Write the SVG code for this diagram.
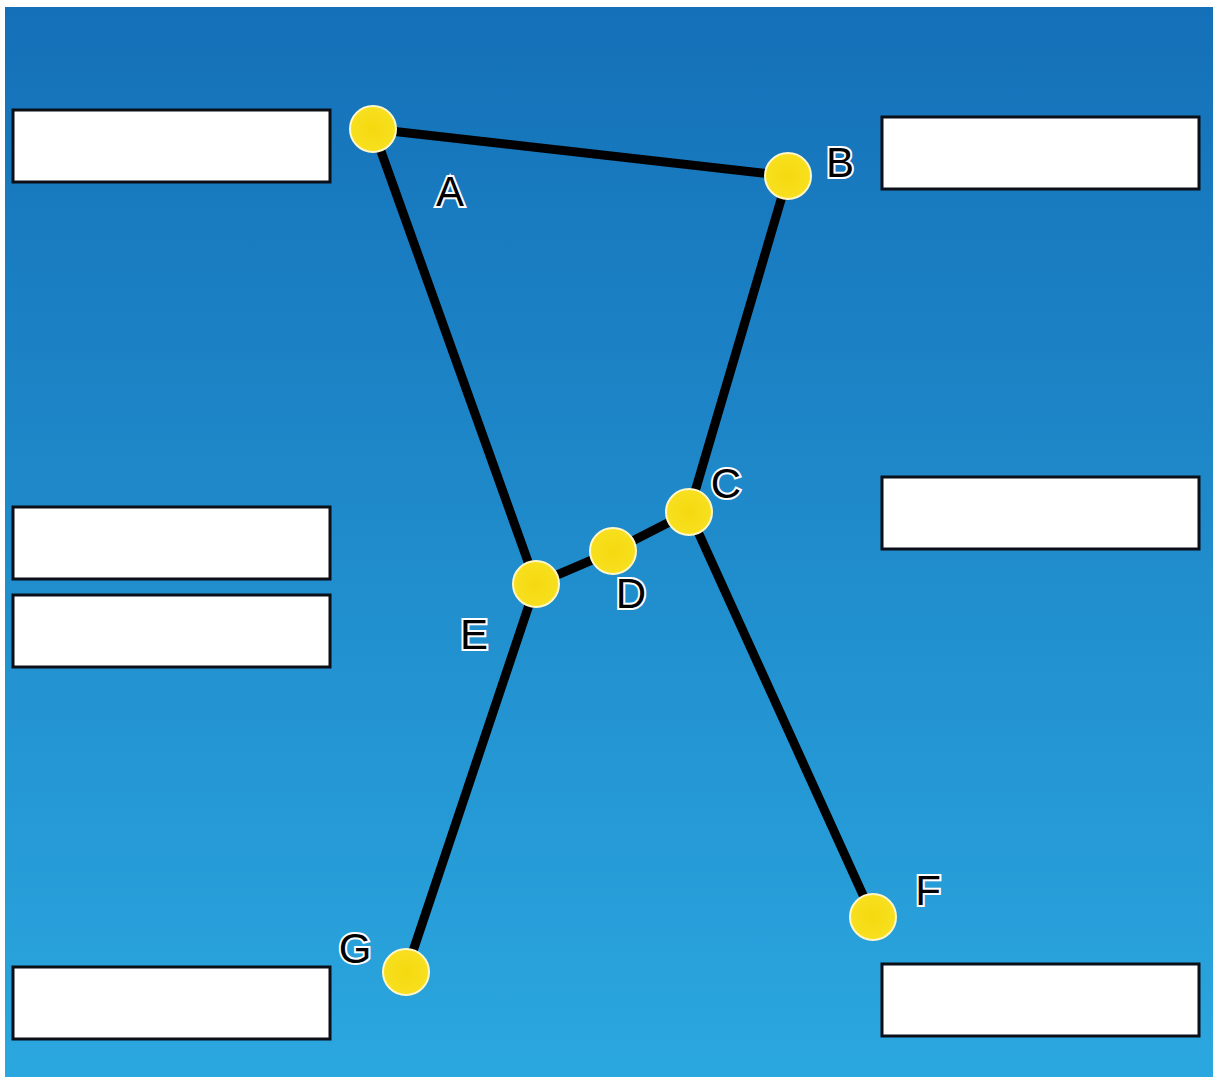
<svg xmlns="http://www.w3.org/2000/svg" width="1213" height="1077" viewBox="0 0 1213 1077">
<defs>
<linearGradient id="bg" x1="0" y1="0" x2="0" y2="1">
<stop offset="0" stop-color="#1470b8"/>
<stop offset="1" stop-color="#2ba7df"/>
</linearGradient>
<radialGradient id="dot" cx="0.5" cy="0.5" r="0.5">
<stop offset="0" stop-color="#f5d90f"/>
<stop offset="1" stop-color="#f8e020"/>
</radialGradient>
</defs>
<style>
.box{fill:#ffffff;stroke:#0a0f18;stroke-width:3}
.edge{stroke:#000;stroke-width:9;fill:none;stroke-linecap:round}
.node{fill:url(#dot);stroke:#fff7c8;stroke-width:2}
.lbl{font-family:"Liberation Sans",Arial,sans-serif;font-size:42px;fill:#000;stroke:#ffffff;stroke-width:4;paint-order:stroke;text-anchor:middle}
</style>
<rect x="0" y="0" width="1213" height="1077" fill="#ffffff"/>
<rect x="5" y="7" width="1208" height="1070" fill="url(#bg)"/>
<g id="boxes">
<rect id="box1" class="box" x="13" y="110" width="317" height="72"/>
<rect id="box2" class="box" x="882" y="117" width="317" height="72"/>
<rect id="box3" class="box" x="13" y="507" width="317" height="72"/>
<rect id="box4" class="box" x="13" y="595" width="317" height="72"/>
<rect id="box5" class="box" x="882" y="477" width="317" height="72"/>
<rect id="box6" class="box" x="13" y="967" width="317" height="72"/>
<rect id="box7" class="box" x="882" y="964" width="317" height="72"/>
</g>
<g id="connectors">
<line class="edge" x1="373" y1="129" x2="788" y2="176"/>
<line class="edge" x1="373" y1="129" x2="536" y2="584"/>
<line class="edge" x1="788" y1="176" x2="689" y2="512"/>
<line class="edge" x1="536" y1="584" x2="613" y2="551"/>
<line class="edge" x1="613" y1="551" x2="689" y2="512"/>
<line class="edge" x1="689" y1="512" x2="873" y2="917"/>
<line class="edge" x1="536" y1="584" x2="406" y2="972"/>
</g>
<g id="A"><circle class="node" cx="373" cy="129" r="23"/><text class="lbl" x="450" y="206">A</text></g>
<g id="B"><circle class="node" cx="788" cy="176" r="23"/><text class="lbl" x="840" y="177">B</text></g>
<g id="C"><circle class="node" cx="689" cy="512" r="23"/><text class="lbl" x="726" y="498">C</text></g>
<g id="D"><circle class="node" cx="613" cy="551" r="23"/><text class="lbl" x="631" y="608">D</text></g>
<g id="E"><circle class="node" cx="536" cy="584" r="23"/><text class="lbl" x="474" y="649">E</text></g>
<g id="F"><circle class="node" cx="873" cy="917" r="23"/><text class="lbl" x="928" y="905">F</text></g>
<g id="G"><circle class="node" cx="406" cy="972" r="23"/><text class="lbl" x="355" y="963">G</text></g>
</svg>
